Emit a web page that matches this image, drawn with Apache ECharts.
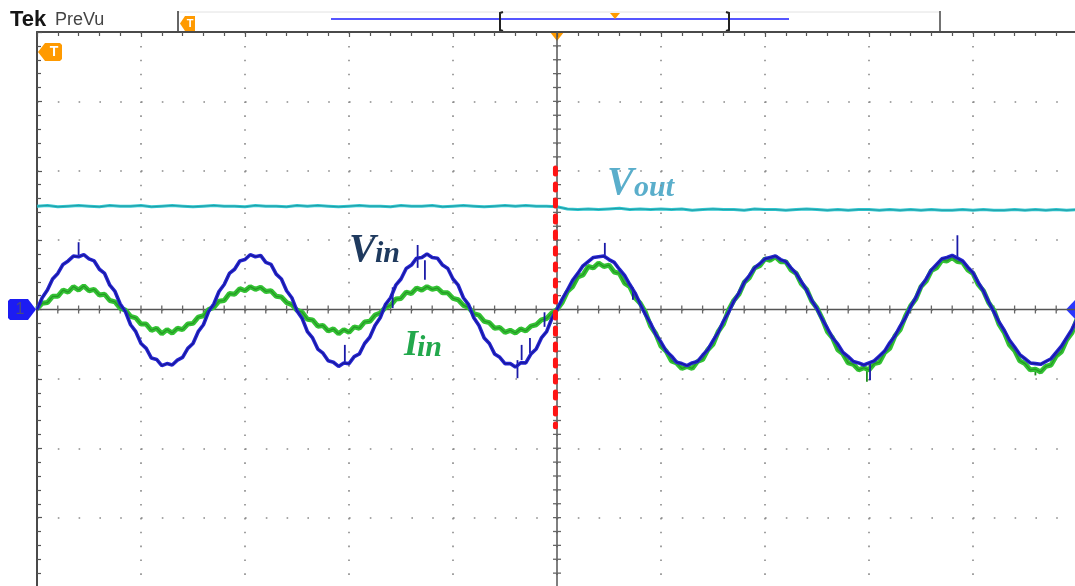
<!DOCTYPE html>
<html><head><meta charset="utf-8">
<script src="https://cdn.jsdelivr.net/npm/echarts@6/dist/echarts.min.js"></script>
<style>html,body{margin:0;padding:0;background:#fff}#c{width:1075px;height:586px}</style>
</head><body><div id="c"></div>
<script>
// Horizontal unit: screen divisions (0..10); vertical unit: divisions (-4..4)
const xStep = 0.05;     // sample spacing of Vin / Iin (divisions)
const voutStep = 0.1;   // sample spacing of Vout (divisions)

const vinLeft = [0.00,0.17,0.28,0.44,0.52,0.65,0.70,0.77,0.76,0.79,
 0.73,0.70,0.58,0.52,0.35,0.26,0.08,-0.03,-0.22,-0.32,
 -0.49,-0.56,-0.70,-0.72,-0.81,-0.78,-0.80,-0.73,-0.69,-0.56,
 -0.49,-0.32,-0.22,-0.03,0.08,0.26,0.36,0.52,0.58,0.70,
 0.72,0.79,0.76,0.78,0.68,0.65,0.51,0.44,0.27,0.17,
 -0.02,-0.13,-0.32,-0.41,-0.57,-0.63,-0.74,-0.76,-0.82,-0.77,
 -0.78,-0.68,-0.64,-0.49,-0.40,-0.23,-0.12,0.07,0.17,0.35,
 0.44,0.59,0.64,0.74,0.75,0.80,0.75,0.74,0.64,0.59,
 0.44,0.35,0.17,0.07,-0.12,-0.23,-0.41,-0.49,-0.64,-0.69,
 -0.78,-0.78,-0.83,-0.77,-0.77,-0.64,-0.57,-0.41,-0.32,-0.13,
 0.00];
const vinRight = [0.00,0.15,0.28,0.42,0.52,0.63,0.69,0.75,0.76,0.77,
 0.72,0.68,0.58,0.49,0.36,0.24,0.08,-0.07,-0.20,-0.36,
 -0.47,-0.60,-0.67,-0.76,-0.78,-0.81,-0.77,-0.75,-0.66,-0.58,
 -0.45,-0.33,-0.17,-0.04,0.12,0.24,0.39,0.49,0.60,0.66,
 0.73,0.75,0.77,0.72,0.69,0.60,0.52,0.40,0.28,0.13,
 0.01,-0.14,-0.27,-0.41,-0.50,-0.62,-0.68,-0.75,-0.77,-0.80,
 -0.77,-0.74,-0.67,-0.60,-0.48,-0.38,-0.24,-0.12,0.04,0.17,
 0.33,0.44,0.57,0.65,0.73,0.75,0.78,0.74,0.70,0.61,
 0.53,0.39,0.27,0.11,-0.03,-0.18,-0.30,-0.44,-0.54,-0.65,
 -0.71,-0.77,-0.78,-0.79,-0.75,-0.71,-0.62,-0.53,-0.41,-0.29,
 -0.14];
const iinLeft = [0.01,0.09,0.10,0.19,0.19,0.28,0.25,0.33,0.28,0.34,
 0.27,0.29,0.21,0.22,0.13,0.11,0.02,-0.01,-0.10,-0.12,
 -0.21,-0.21,-0.30,-0.27,-0.35,-0.29,-0.34,-0.27,-0.29,-0.21,
 -0.20,-0.11,-0.09,0.00,0.03,0.12,0.13,0.23,0.22,0.30,
 0.27,0.33,0.29,0.32,0.26,0.27,0.19,0.18,0.10,0.07,
 -0.01,-0.04,-0.14,-0.15,-0.24,-0.23,-0.31,-0.28,-0.35,-0.29,
 -0.33,-0.25,-0.27,-0.18,-0.17,-0.08,-0.05,0.03,0.06,0.15,
 0.16,0.25,0.23,0.31,0.28,0.33,0.29,0.31,0.24,0.24,
 0.16,0.14,0.06,0.03,-0.06,-0.08,-0.17,-0.19,-0.27,-0.26,
 -0.33,-0.30,-0.34,-0.28,-0.31,-0.24,-0.22,-0.15,-0.13,-0.05,
 0.00];
const iinRight = [0.02,0.10,0.26,0.33,0.47,0.50,0.62,0.60,0.67,0.62,0.64,0.54,0.52,0.38,0.33,0.17,0.09,
 -0.04,-0.24,-0.35,-0.53,-0.60,-0.74,-0.77,-0.85,-0.82,-0.85,-0.75,-0.72,-0.58,-0.50,-0.32,-0.21,-0.01,
 0.13,0.22,0.39,0.46,0.60,0.63,0.73,0.71,0.76,0.69,0.69,0.57,0.52,0.37,0.29,0.12,0.02,
 -0.13,-0.32,-0.41,-0.58,-0.64,-0.77,-0.79,-0.87,-0.84,-0.87,-0.78,-0.76,-0.62,-0.56,-0.38,-0.29,-0.10,
 0.05,0.15,0.33,0.41,0.56,0.60,0.71,0.70,0.75,0.69,0.68,0.57,0.52,0.36,0.27,0.10,
 -0.01,-0.21,-0.33,-0.51,-0.59,-0.74,-0.78,-0.87,-0.86,-0.90,-0.82,-0.80,-0.67,-0.61,-0.44,-0.34,-0.14];
const vout = [1.49,1.50,1.48,1.49,1.50,1.49,1.48,1.50,1.49,1.49,
 1.50,1.48,1.49,1.50,1.49,1.48,1.49,1.50,1.49,1.49,
 1.48,1.50,1.49,1.49,1.48,1.50,1.49,1.50,1.49,1.48,
 1.49,1.50,1.49,1.49,1.48,1.50,1.49,1.49,1.50,1.48,
 1.49,1.50,1.49,1.48,1.49,1.50,1.49,1.50,1.49,1.49,
 1.48,
 1.45,1.44,1.45,1.44,1.45,1.46,1.44,1.45,1.44,1.45,
 1.44,1.45,1.43,1.44,1.45,1.44,1.44,1.43,1.45,1.44,
 1.44,1.43,1.44,1.45,1.44,1.43,1.44,1.43,1.44,1.44,
 1.43,1.44,1.43,1.44,1.43,1.44,1.43,1.43,1.44,1.43,
 1.44,1.43,1.43,1.44,1.43,1.44,1.43,1.44,1.43,1.44];
// glitches: [x, yFrom, yTo]
const vinSpikes = [[0.40,0.76,0.97],[2.96,-0.51,-0.76],[3.42,0.02,0.32],[3.66,0.60,0.93],[3.73,0.43,0.71],
 [4.62,-0.73,-0.99],[4.66,-0.51,-0.73],[4.74,-0.41,-0.63],[4.88,-0.04,-0.25],
 [5.46,0.74,0.96],[5.73,0.14,0.32],[8.01,-0.76,-1.02],[8.85,0.74,1.07]];
const iinSpikes = [[7.98,-0.86,-1.04],[9.60,-0.84,-0.95]];
const triggerLine = [[4.985,2.04],[4.985,-1.69]];

const vinData = vinLeft.map((v,i)=>[i*xStep, v]).concat(vinRight.slice(1).map((v,i)=>[5+(i+1)*xStep, v]));
const iinData = iinLeft.map((v,i)=>[i*xStep, v]).concat(iinRight.slice(1).map((v,i)=>[5+(i+1)*xStep, v]));
const voutData = vout.map((v,i)=>[i*voutStep, v]);

const chart = echarts.init(document.getElementById('c'), null, {renderer:'canvas'});

function crosshair(params, api){
  const ch = [];
  const st = {stroke:'#555', lineWidth:1.5};
  const a = api.coord([0,0]), b = api.coord([10,0]);
  ch.push({type:'line', shape:{x1:a[0],y1:a[1],x2:b[0],y2:b[1]}, style:st});
  const c = api.coord([5,-4]), d = api.coord([5,4]);
  ch.push({type:'line', shape:{x1:c[0],y1:c[1],x2:d[0],y2:d[1]}, style:st});
  for(let k=1;k<50;k++){
    const p = api.coord([k*0.2,0]);
    ch.push({type:'line', shape:{x1:p[0],y1:p[1]-4,x2:p[0],y2:p[1]+4}, style:{stroke:'#666',lineWidth:1.3}});
  }
  for(let k=1;k<40;k++){
    const p = api.coord([5,-4+k*0.2]);
    ch.push({type:'line', shape:{x1:p[0]-4,y1:p[1],x2:p[0]+4,y2:p[1]}, style:{stroke:'#666',lineWidth:1.3}});
  }
  return {type:'group', children:ch};
}
function spike(color){
  return function(params, api){
    const a = api.coord([api.value(0), api.value(1)]);
    const b = api.coord([api.value(0), api.value(2)]);
    return {type:'line', shape:{x1:a[0],y1:a[1],x2:b[0],y2:b[1]}, style:{stroke:color, lineWidth:1.8}};
  };
}

const option = {
  animation:false,
  backgroundColor:'#ffffff',
  grid:{left:37, top:32, width:1040, height:555, containLabel:false, outerBoundsMode:'none'},
  xAxis:{type:'value', min:0, max:10, interval:1, position:'top',
    axisLine:{show:true, onZero:false, lineStyle:{color:'#4a4a4a', width:2}},
    axisTick:{show:true, inside:true, length:5, lineStyle:{color:'#555', width:1.2}},
    minorTick:{show:true, splitNumber:5, length:4, lineStyle:{color:'#555', width:1.2}},
    axisLabel:{show:false},
    splitLine:{show:true, lineStyle:{color:'#8a8a8a', width:1.6, type:[1.6,12.28]}}},
  yAxis:{type:'value', min:-4, max:4, interval:1, position:'left',
    axisLine:{show:true, onZero:false, lineStyle:{color:'#4a4a4a', width:2}},
    axisTick:{show:true, inside:true, length:5, lineStyle:{color:'#555', width:1.2}},
    minorTick:{show:true, splitNumber:5, length:4, lineStyle:{color:'#555', width:1.2}},
    axisLabel:{show:false},
    splitLine:{show:true, lineStyle:{color:'#8a8a8a', width:1.6, type:[1.6,19.2]}}},
  series:[
    {type:'custom', name:'graticule', renderItem:crosshair, data:[[0,0]], silent:true, z:1, clip:false},
    {type:'line', name:'Vout', data:voutData, symbol:'none', z:2, lineStyle:{color:'#30c6cf', width:3}},
    {type:'line', name:'Vout n', data:voutData, symbol:'none', z:2, lineStyle:{color:'#1b7d86', width:1, opacity:0.6}},
    {type:'line', name:'Iin', data:iinData, symbol:'none', z:3, lineStyle:{color:'#33c233', width:5}},
    {type:'line', name:'Iin n', data:iinData, symbol:'none', z:3, lineStyle:{color:'#1c7c1c', width:1.2, opacity:0.6}},
    {type:'custom', name:'Iin glitch', renderItem:spike('#1c8c1c'), data:iinSpikes, z:3, encode:{x:0,y:[1,2]}},
    {type:'line', name:'Vin', data:vinData, symbol:'none', z:4, lineStyle:{color:'#2626d2', width:3.6}},
    {type:'line', name:'Vin n', data:vinData, symbol:'none', z:4, lineStyle:{color:'#0e0e70', width:1.1, opacity:0.6}},
    {type:'custom', name:'Vin glitch', renderItem:spike('#1a1aa8'), data:vinSpikes, z:4, encode:{x:0,y:[1,2]}},
    {type:'line', name:'trigger', data:triggerLine, symbol:'none', z:6,
      lineStyle:{color:'#ff1414', width:5, type:[6,10], cap:'round'}}
  ],
  graphic:[
    {type:'text', x:10, y:20, style:{text:'Tek', font:'bold 22px "Liberation Sans"', fill:'#151515', verticalAlign:'middle'}},
    {type:'text', x:55, y:20, style:{text:'PreVu', font:'18px "Liberation Sans"', fill:'#444', verticalAlign:'middle'}},
    {type:'line', shape:{x1:178,y1:12,x2:940,y2:12}, style:{stroke:'#e2e2e2', lineWidth:1}},
    {type:'line', shape:{x1:178,y1:11,x2:178,y2:32}, style:{stroke:'#333', lineWidth:1.5}},
    {type:'line', shape:{x1:940,y1:11,x2:940,y2:32}, style:{stroke:'#444', lineWidth:1.5}},
    {type:'line', shape:{x1:331,y1:19,x2:789,y2:19}, style:{stroke:'#5555ff', lineWidth:2}},
    {type:'polyline', shape:{points:[[503,12],[500,13],[500,30],[503,31]]}, style:{stroke:'#222', lineWidth:2, fill:null}},
    {type:'polyline', shape:{points:[[726,12],[729,13],[729,30],[726,31]]}, style:{stroke:'#222', lineWidth:2, fill:null}},
    {type:'polygon', shape:{points:[[610,13],[620,13],[615,19]]}, style:{fill:'#ff9a00'}},
    {type:'polygon', shape:{points:[[180,23.5],[185,16],[195,16],[195,31],[185,31]]}, style:{fill:'#ff9a00'}},
    {type:'text', x:190, y:24, style:{text:'T', font:'bold 11px "Liberation Sans"', fill:'#fff', align:'center', verticalAlign:'middle'}},
    {type:'polygon', shape:{points:[[550,32],[564,32],[557,41]]}, style:{fill:'#ff9a00'}},
    {type:'polygon', shape:{points:[[38,52],[45,43],[60,43],[62,45],[62,59],[60,61],[45,61]]}, style:{fill:'#ff9a00'}},
    {type:'text', x:54, y:52, style:{text:'T', font:'bold 14px "Liberation Sans"', fill:'#fff', align:'center', verticalAlign:'middle'}},
    {type:'polygon', shape:{points:[[10,299],[28,299],[36,309.5],[28,320],[10,320],[8,318],[8,301]]}, style:{fill:'#1c1cf2'}},
    {type:'text', x:20, y:310, style:{text:'1', font:'16px "Liberation Sans"', fill:'#4a4a80', align:'center', verticalAlign:'middle'}},
    {type:'polygon', shape:{points:[[1075,300],[1075,319],[1066,309.5]]}, style:{fill:'#2a36ff'}},
    {type:'text', x:607, y:184, style:{text:'V', font:'italic bold 40px "Liberation Serif"', fill:'#5aaecb', verticalAlign:'middle'}},
    {type:'text', x:634, y:188, style:{text:'out', font:'italic bold 30px "Liberation Serif"', fill:'#5aaecb', verticalAlign:'middle'}},
    {type:'text', x:349, y:251, style:{text:'V', font:'italic bold 40px "Liberation Serif"', fill:'#1f3a5e', verticalAlign:'middle'}},
    {type:'text', x:375, y:254, style:{text:'in', font:'italic bold 30px "Liberation Serif"', fill:'#1f3a5e', verticalAlign:'middle'}},
    {type:'text', x:404, y:346, style:{text:'I', font:'italic bold 36px "Liberation Serif"', fill:'#22a84c', verticalAlign:'middle'}},
    {type:'text', x:417, y:348, style:{text:'in', font:'italic bold 30px "Liberation Serif"', fill:'#22a84c', verticalAlign:'middle'}}
  ]
};
chart.setOption(option);
</script></body></html>
